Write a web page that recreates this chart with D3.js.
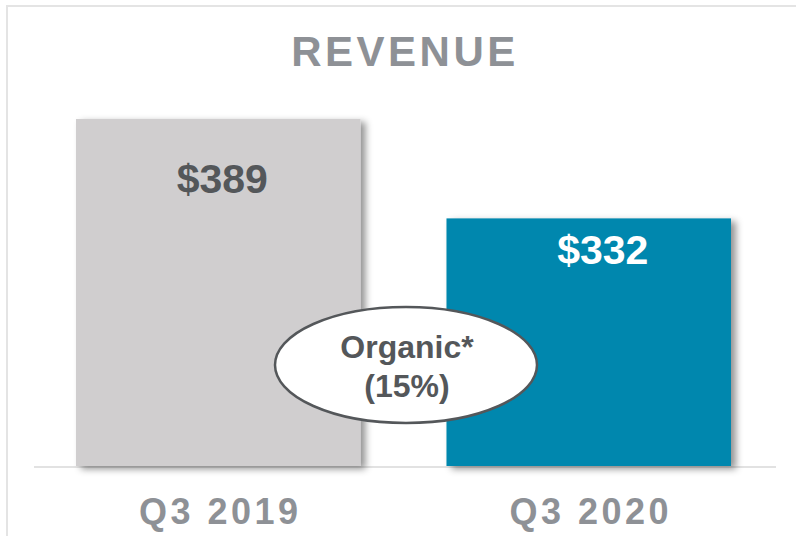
<html>
<head>
<meta charset="UTF-8">
<title>Revenue</title>
<style>
body { margin: 0; background: #fff; }
svg text { font-family: "Liberation Sans", Arial, sans-serif; font-weight: bold; }
</style>
</head>
<body>
<div id="chart"></div>
<script src="https://cdnjs.cloudflare.com/ajax/libs/d3/7.8.5/d3.min.js"></script>
<script>
// chart data
var categories = ["Q3 2019", "Q3 2020"];
var values = [389, 332];
var valueLabels = ["$389", "$332"];
var barColors = ["#d0cecf", "#0087ae"];
var labelColors = ["#54575a", "#ffffff"];
var title = "REVENUE";
var calloutLines = ["Organic*", "(15%)"];

var width = 796, height = 536;

var svg = d3.select("#chart").append("svg")
    .attr("width", width)
    .attr("height", height);

var defs = svg.append("defs");
var shadow = defs.append("filter")
    .attr("id", "shadow")
    .attr("x", "-10%").attr("y", "-10%")
    .attr("width", "125%").attr("height", "125%");
shadow.append("feDropShadow")
    .attr("dx", 5).attr("dy", 3)
    .attr("stdDeviation", 3.5)
    .attr("flood-color", "#000")
    .attr("flood-opacity", 0.42);

// frame lines top and left
svg.append("line")
    .attr("x1", 6).attr("x2", width).attr("y1", 6).attr("y2", 6)
    .attr("stroke", "#e4e4e4").attr("stroke-width", 2);
svg.append("line")
    .attr("x1", 7).attr("x2", 7).attr("y1", 6).attr("y2", height)
    .attr("stroke", "#e4e4e4").attr("stroke-width", 2);

var x = d3.scaleBand()
    .domain(categories)
    .range([76, 731])
    .paddingInner(0.232)
    .paddingOuter(0);

var y = d3.scaleLinear()
    .domain([190, 389])
    .range([466, 119]);

// title
svg.append("text")
    .attr("x", 405).attr("y", 66)
    .attr("text-anchor", "middle")
    .attr("font-size", 42)
    .attr("letter-spacing", 3.5)
    .attr("fill", "#8e9196")
    .text(title);

// baseline
svg.append("line")
    .attr("x1", 34).attr("x2", 776)
    .attr("y1", 467).attr("y2", 467)
    .attr("stroke", "#e2e2e2").attr("stroke-width", 2);

// bars
svg.selectAll(".bar")
    .data(values)
    .enter()
    .append("rect")
    .attr("class", "bar")
    .attr("x", function (d, i) { return x(categories[i]); })
    .attr("y", function (d) { return y(d); })
    .attr("width", x.bandwidth())
    .attr("height", function (d) { return y.range()[0] - y(d); })
    .attr("fill", function (d, i) { return barColors[i]; })
    .attr("filter", "url(#shadow)");

// value labels
var labelDx = [4, 14];
var labelDy = [74, 46];
svg.selectAll(".val")
    .data(values)
    .enter()
    .append("text")
    .attr("class", "val")
    .attr("x", function (d, i) { return x(categories[i]) + x.bandwidth() / 2 + labelDx[i]; })
    .attr("y", function (d, i) { return y(d) + labelDy[i]; })
    .attr("text-anchor", "middle")
    .attr("font-size", 41)
    .attr("fill", function (d, i) { return labelColors[i]; })
    .text(function (d, i) { return valueLabels[i]; });

// category labels
svg.selectAll(".cat")
    .data(categories)
    .enter()
    .append("text")
    .attr("class", "cat")
    .attr("x", function (d) { return x(d) + x.bandwidth() / 2 + 2; })
    .attr("y", 524)
    .attr("text-anchor", "middle")
    .attr("font-size", 36)
    .attr("letter-spacing", 3.5)
    .attr("fill", "#8e9196")
    .text(function (d) { return d; });

// organic callout
var callout = svg.append("g").attr("transform", "translate(406,365)");
callout.append("ellipse")
    .attr("rx", 131).attr("ry", 58)
    .attr("fill", "#fff")
    .attr("stroke", "#54575a")
    .attr("stroke-width", 2.5);
callout.selectAll("text")
    .data(calloutLines)
    .enter()
    .append("text")
    .attr("x", 1)
    .attr("y", function (d, i) { return -7 + i * 39; })
    .attr("text-anchor", "middle")
    .attr("font-size", 32)
    .attr("fill", "#54575a")
    .text(function (d) { return d; });
</script>
</body>
</html>
